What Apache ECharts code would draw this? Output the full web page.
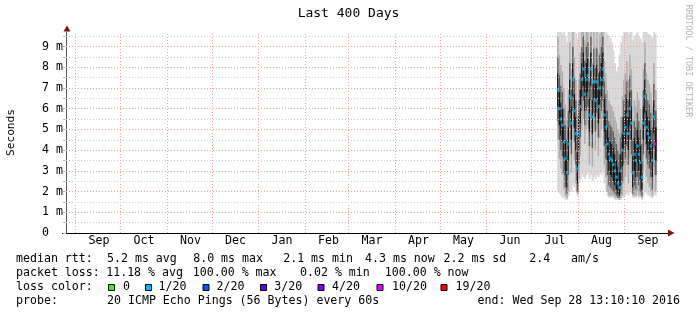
<!DOCTYPE html>
<html><head><meta charset="utf-8">
<script src="https://cdn.jsdelivr.net/npm/echarts@6/dist/echarts.min.js"></script>
<style>html,body{margin:0;padding:0;background:#fff;}#c{width:697px;height:315px;}</style>
</head><body><div id="c"></div>
<script>
// ---- data ----
const rangeStart = '2015-08-25T13:10:10Z';
const rangeDays = 400;
const monthStarts = ['2015-09-01','2015-10-01','2015-11-01','2015-12-01','2016-01-01','2016-02-01','2016-03-01','2016-04-01','2016-05-01','2016-06-01','2016-07-01','2016-08-01','2016-09-01'];
const monthLabels = ['Sep','Oct','Nov','Dec','Jan','Feb','Mar','Apr','May','Jun','Jul','Aug','Sep'];
const yMajorTicks = [0,1,2,3,4,5,6,7,8,9];
const yMinorTicks = [0.5,1.5,2.5,3.5,4.5,5.5,6.5,7.5,8.5,9.5];
const yMax = 9.7;
const firstSample = '2016-07-18T00:00:00Z'; // one column per day (ms values)
const medianRtt = [6.9,6.0,5.5,5.2,4.4,3.6,2.9,4.3,6.6,5.3,
  7.4,5.9,4.8,3.1,4.8,6.1,7.4,7.9,6.7,7.4,
  7.6,5.7,7.9,5.6,7.3,6.4,7.3,6.1,7.0,7.4,
  7.9,5.7,5.1,4.3,3.8,3.6,3.5,3.3,3.0,2.7,
  2.4,2.2,3.0,4.0,4.8,5.1,5.7,4.8,6.0,5.3,
  2.9,3.8,3.5,4.2,3.8,3.4,2.7,5.3,6.6,5.1,
  4.8,4.6,4.2,3.5,5.6,4.3];
const pingMin = [2.0,1.9,1.8,1.7,1.7,1.6,1.6,1.8,2.1,2.0,
  2.3,2.2,2.0,1.8,2.4,2.6,2.8,2.7,2.6,2.8,
  2.9,2.6,2.8,2.5,2.7,2.6,2.8,2.7,2.9,2.8,
  3.0,2.4,2.0,1.8,1.7,1.7,1.7,1.7,1.6,1.6,
  1.6,1.6,1.6,1.7,1.8,1.8,1.9,1.8,2.0,1.9,
  1.7,1.7,1.7,1.8,1.7,1.7,1.6,1.8,2.0,1.9,
  1.8,1.8,1.7,1.7,1.9,1.8];
const pingMax = [9.7,9.7,9.7,9.6,9.7,9.5,9.2,9.7,9.7,9.7,
  9.7,9.7,9.6,9.4,9.7,9.7,9.7,9.7,9.7,9.7,
  9.7,9.7,9.7,9.7,9.7,9.7,9.7,9.7,9.7,9.7,
  9.7,9.7,9.7,9.6,9.5,9.4,9.2,8.8,8.2,7.8,
  8.0,8.6,9.2,9.5,9.7,9.7,9.7,9.6,9.7,9.7,
  9.3,9.5,9.6,9.7,9.5,9.4,9.2,9.7,9.7,9.7,
  9.6,9.6,9.5,9.4,9.7,9.6];
const ping15 = [4.5,3.6,3.1,2.8,2.1,1.8,1.7,2.0,4.2,2.9,
  5.0,3.5,2.4,1.9,2.6,3.7,5.0,5.5,4.3,5.0,
  5.2,3.3,5.5,3.2,4.9,4.0,4.9,3.7,4.6,5.0,
  5.5,3.3,2.7,2.0,1.8,1.8,1.8,1.8,1.7,1.7,
  1.7,1.6,1.7,1.8,2.4,2.7,3.3,2.4,3.6,2.9,
  1.8,1.8,1.8,2.0,1.8,1.8,1.7,2.9,4.2,2.7,
  2.4,2.2,2.0,1.8,3.2,2.0];
const ping85 = [9.5,8.6,8.1,7.8,7.0,6.2,5.5,6.9,9.2,7.9,
  9.7,8.5,7.4,5.7,7.4,8.7,9.7,9.7,9.3,9.7,
  9.7,8.3,9.7,8.2,9.7,9.0,9.7,8.7,9.6,9.7,
  9.7,8.3,7.7,6.9,6.4,6.2,6.1,5.9,5.6,5.3,
  5.0,4.8,5.6,6.6,7.4,7.7,8.3,7.4,8.6,7.9,
  5.5,6.4,6.1,6.8,6.4,6.0,5.3,7.9,9.2,7.7,
  7.4,7.2,6.8,6.1,8.2,6.9];
const ping30 = [5.4,4.5,4.0,3.7,2.9,2.2,1.9,2.8,5.1,3.8,
  5.9,4.4,3.3,2.0,3.3,4.6,5.9,6.4,5.2,5.9,
  6.1,4.2,6.4,4.1,5.8,4.9,5.8,4.6,5.5,5.9,
  6.4,4.2,3.6,2.8,2.3,2.2,2.1,2.0,1.9,1.8,
  1.7,1.7,1.9,2.5,3.3,3.6,4.2,3.3,4.5,3.8,
  1.9,2.3,2.1,2.7,2.3,2.0,1.8,3.8,5.1,3.6,
  3.3,3.1,2.7,2.1,4.1,2.8];
const ping70 = [8.5,7.6,7.1,6.8,6.0,5.2,4.5,5.9,8.2,6.9,
  9.0,7.5,6.4,4.7,6.4,7.7,9.0,9.5,8.3,9.0,
  9.2,7.3,9.5,7.2,8.9,8.0,8.9,7.7,8.6,9.0,
  9.5,7.3,6.7,5.9,5.4,5.2,5.1,4.9,4.6,4.3,
  4.0,3.8,4.6,5.6,6.4,6.7,7.3,6.4,7.6,6.9,
  4.5,5.4,5.1,5.8,5.4,5.0,4.3,6.9,8.2,6.7,
  6.4,6.2,5.8,5.1,7.2,5.9];
const ping42 = [6.1,5.2,4.7,4.4,3.6,2.8,2.2,3.5,5.8,4.5,
  6.6,5.1,4.0,2.4,4.0,5.3,6.6,7.1,5.9,6.6,
  6.8,4.9,7.1,4.8,6.5,5.6,6.5,5.3,6.2,6.6,
  7.1,4.9,4.3,3.5,3.0,2.8,2.7,2.5,2.3,2.1,
  1.9,1.8,2.3,3.2,4.0,4.3,4.9,4.0,5.2,4.5,
  2.2,3.0,2.7,3.4,3.0,2.6,2.1,4.5,5.8,4.3,
  4.0,3.8,3.4,2.7,4.8,3.5];
const ping58 = [7.7,6.8,6.3,6.0,5.2,4.4,3.7,5.1,7.4,6.1,
  8.2,6.7,5.6,3.9,5.6,6.9,8.2,8.7,7.5,8.2,
  8.4,6.5,8.7,6.4,8.1,7.2,8.1,6.9,7.8,8.2,
  8.7,6.5,5.9,5.1,4.6,4.4,4.3,4.1,3.8,3.5,
  3.2,3.0,3.8,4.8,5.6,5.9,6.5,5.6,6.8,6.1,
  3.7,4.6,4.3,5.0,4.6,4.2,3.5,6.1,7.4,5.9,
  5.6,5.4,5.0,4.3,6.4,5.1];
const medianLoss = [1,1,1,1,1,1,1,1,1,1,1,1,1,1,1,1,1,1,1,1,
  1,1,1,1,1,1,1,1,1,1,1,1,1,1,1,1,1,1,1,1,
  1,1,1,1,1,1,1,1,1,1,1,1,1,1,1,1,1,1,1,1,
  1,1,1,1,1,10];
const lossLegend = [['0','#26ff00'],['1/20','#00b8ff'],['2/20','#0059ff'],['3/20','#5e00ff'],['4/20','#7e00ff'],['10/20','#dd00ff'],['19/20','#ff0000']];
const lossColorByCount = {0:'#26ff00',1:'#00b8ff',2:'#0059ff',3:'#5e00ff',4:'#7e00ff',10:'#dd00ff',19:'#ff0000'};

// ---- derived positions on the day axis ----
const DAY = 86400000;
const t0 = Date.parse(rangeStart);
const dayOf = s => (Date.parse(s) - t0) / DAY;
const monthStartDays = monthStarts.map(dayOf);
const monthLabelDays = monthStartDays.map(d => d + 15.5);
const firstDay = dayOf(firstSample);

const smokeData = medianRtt.map((m, i) => [firstDay + i, pingMin[i], pingMax[i], ping15[i], ping85[i], ping30[i], ping70[i], ping42[i], ping58[i]]);
const medData = medianRtt.map((m, i) => ({value: [firstDay + i + 0.5, m], itemStyle: {color: lossColorByCount[medianLoss[i]]}}));

const MONO = '"DejaVu Sans Mono", monospace';
const F = '11.6px ' + MONO;
const majorCol = '#f0a0a0', minorCol = '#c8c8c8';

const gridLines = [];
monthStartDays.forEach(d => gridLines.push({xAxis: d, lineStyle: {color: majorCol, type: [1, 2], width: 1}}));
yMinorTicks.forEach(v => gridLines.push({yAxis: v, lineStyle: {color: minorCol, type: [1, 2], width: 1}}));
yMajorTicks.filter(v => v > 0).forEach(v => gridLines.push({yAxis: v, lineStyle: {color: majorCol, type: [1, 2], width: 1}}));

// legend graphics
const g = [];
const txt = (x, y, text, extra) => g.push(Object.assign({type: 'text', x, y, style: Object.assign({text, font: F, fill: '#000', verticalAlign: 'middle'}, extra || {})}));
txt(348.5, 14, 'Last 400 Days', {font: '13px ' + MONO, align: 'center'});
g.push({type: 'text', x: 688, y: 61, rotation: -Math.PI / 2, style: {text: 'RRDTOOL / TOBI OETIKER', font: '8.5px ' + MONO, fill: '#b4b4b4', align: 'center', verticalAlign: 'middle'}});
const r1 = 259.3, r2 = 272.6, r3 = 286.6, r4 = 300.9;
[[16,'median rtt:'],[107,'5.2 ms avg'],[193.2,'8.0 ms max'],[283.2,'2.1 ms min'],[365,'4.3 ms now'],[443.5,'2.2 ms sd'],[529.2,'2.4'],[571,'am/s']].forEach(p => txt(p[0], r1, p[1]));
[[16,'packet loss:'],[106.2,'11.18 % avg'],[192.8,'100.00 % max'],[300,'0.02 % min'],[384.8,'100.00 % now']].forEach(p => txt(p[0], r2, p[1]));
txt(16, r3, 'loss color:');
const sqX = [108.5, 145.5, 203, 260.5, 318, 377, 441];
const lbX = [123, 158.5, 216.5, 274.3, 332, 392, 455.5];
lossLegend.forEach((l, i) => {
  g.push({type: 'rect', shape: {x: sqX[i], y: 284.5, width: 6, height: 6}, style: {fill: l[1], stroke: '#000', lineWidth: 1}});
  txt(lbX[i], r3, l[0]);
});
[[16,'probe:'],[107,'20 ICMP Echo Pings (56 Bytes) every 60s'],[477.6,'end: Wed Sep 28 13:10:10 2016']].forEach(p => txt(p[0], r4, p[1]));
// axis arrows
g.push({type: 'polygon', shape: {points: [[668, 229.5], [674.5, 233], [668, 236.5]]}, style: {fill: '#7a1212'}});
g.push({type: 'polygon', shape: {points: [[63.5, 31.5], [67, 25.5], [70.5, 31.5]]}, style: {fill: '#7a1212'}});
g.push({type: 'line', shape: {x1: 62, y1: 233.5, x2: 668, y2: 233.5}, style: {stroke: '#000', lineWidth: 1}});

const chart = echarts.init(document.getElementById('c'), null, {renderer: 'canvas', devicePixelRatio: 1});
chart.setOption({
  animation: false,
  backgroundColor: '#fff',
  grid: {left: 66, top: 32, width: 600, height: 201, containLabel: false, outerBoundsMode: 'none'},
  xAxis: {
    type: 'value', min: 0, max: rangeDays,
    axisLine: {show: false},
    axisTick: {show: false},
    splitLine: {show: false},
    axisLabel: {
      customValues: monthLabelDays, margin: 2, color: '#000', fontFamily: MONO, fontSize: 11.6,
      formatter: v => { const i = monthLabelDays.findIndex(d => Math.abs(d - v) < 1e-6); return i >= 0 ? monthLabels[i] : ''; }
    }
  },
  yAxis: {
    type: 'value', min: 0, max: yMax,
    name: 'Seconds', nameLocation: 'middle', nameGap: 49.5,
    nameTextStyle: {fontFamily: MONO, fontSize: 11.2, color: '#000'},
    axisLine: {show: true, lineStyle: {color: '#555', width: 1}},
    axisTick: {show: true, customValues: yMinorTicks.concat(yMajorTicks), length: 3, lineStyle: {color: '#c0c0c0'}},
    splitLine: {show: false},
    axisLabel: {
      customValues: yMajorTicks, align: 'left', margin: 24, fontFamily: MONO, fontSize: 11.6, color: '#000',
      formatter: v => v === 0 ? '0' : v + ' m'
    }
  },
  graphic: g,
  series: [
    {
      type: 'custom', z: 2, silent: true,
      data: smokeData,
      encode: {x: 0, y: [1, 2]},
      renderItem: (params, api) => {
        const d = api.value(0);
        const xa = api.coord([d, 0])[0], xb = api.coord([d + 1, 0])[0];
        const bands = [[1, 2, '#d8d8d8'], [3, 4, '#ababab'], [5, 6, '#5c5c5c'], [7, 8, '#141414']];
        return {type: 'group', children: bands.map(b => {
          const ya = api.coord([d, Math.min(api.value(b[0]), yMax)])[1];
          const yb = api.coord([d, Math.min(api.value(b[1]), yMax)])[1];
          return {type: 'rect', shape: {x: xa, y: yb, width: xb - xa + 0.4, height: ya - yb}, style: {fill: b[2]}};
        })};
      }
    },
    {
      type: 'scatter', z: 5, silent: true, data: [],
      markLine: {silent: true, symbol: 'none', label: {show: false}, animation: false, data: gridLines}
    },
    {
      type: 'scatter', z: 6, silent: true, symbol: 'rect', symbolSize: [2.5, 3],
      data: medData
    }
  ]
});
</script></body></html>
